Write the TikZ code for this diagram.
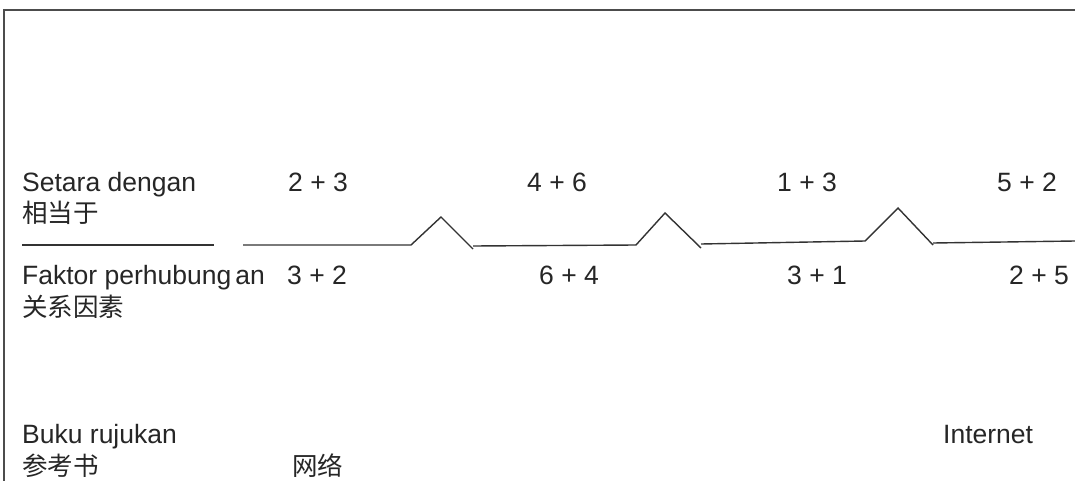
\documentclass[tikz,border=0pt]{standalone}
\usepackage{fontspec}
\setmainfont{Liberation Sans}
\newfontfamily\cjk{Noto Sans CJK SC}
\begin{document}
\begin{tikzpicture}[x=1pt,y=-1pt,
  lbl/.style={anchor=base west,inner sep=0pt,text=black!85,font=\fontsize{26.5}{30}\selectfont},
  cjklbl/.style={anchor=base west,inner sep=0pt,text=black!85,font=\cjk\fontsize{25.5}{28}\selectfont},
  num/.style={anchor=base west,inner sep=0pt,text=black!85,font=\fontsize{26.5}{30}\selectfont},
  frame/.style={line width=1.6pt,draw=black!70},
  zig/.style={line width=1.4pt,draw=black!80,line join=miter}]
\useasboundingbox (0,0) rectangle (1075,481);
\fill[white] (0,0) rectangle (1075,481);
% frame
\draw[frame] (4,481) -- (4,10) -- (1075,10);
% labels left
\node[lbl] (setara) at (22,191) {Setara dengan};
\node[cjklbl] (setaracn) at (22,222) {相当于};
\node[lbl] (faktor) at (22,284) {Faktor perhubung\kern4pt an};
\node[cjklbl] (faktorcn) at (22,316) {关系因素};
\node[lbl] (buku) at (22,443) {Buku rujukan};
\node[cjklbl] (bukucn) at (22,475) {参考书};
\node[cjklbl] (wangluo) at (292,475) {网络};
\node[lbl] (internet) at (943,443) {Internet};
% numbers top
\node[num] (t1) at (288,191) {2 + 3};
\node[num] (t2) at (527,191) {4 + 6};
\node[num] (t3) at (777,191) {1 + 3};
\node[num] (t4) at (997,191) {5 + 2};
% numbers bottom
\node[num] (b1) at (287,284) {3 + 2};
\node[num] (b2) at (539,284) {6 + 4};
\node[num] (b3) at (787,284) {3 + 1};
\node[num] (b4) at (1009,284) {2 + 5};
% line
\draw[zig] (22,245) -- (214,245);
\draw[zig] (243,245) -- (411,245) -- (441,217) -- (473,249);
\draw[zig] (473,246) -- (636,245) -- (665,213) -- (701,248);
\draw[zig] (701,244) -- (865,241) -- (898,208) -- (933,245);
\draw[zig] (933,243) -- (1075,241);
\end{tikzpicture}
\end{document}
